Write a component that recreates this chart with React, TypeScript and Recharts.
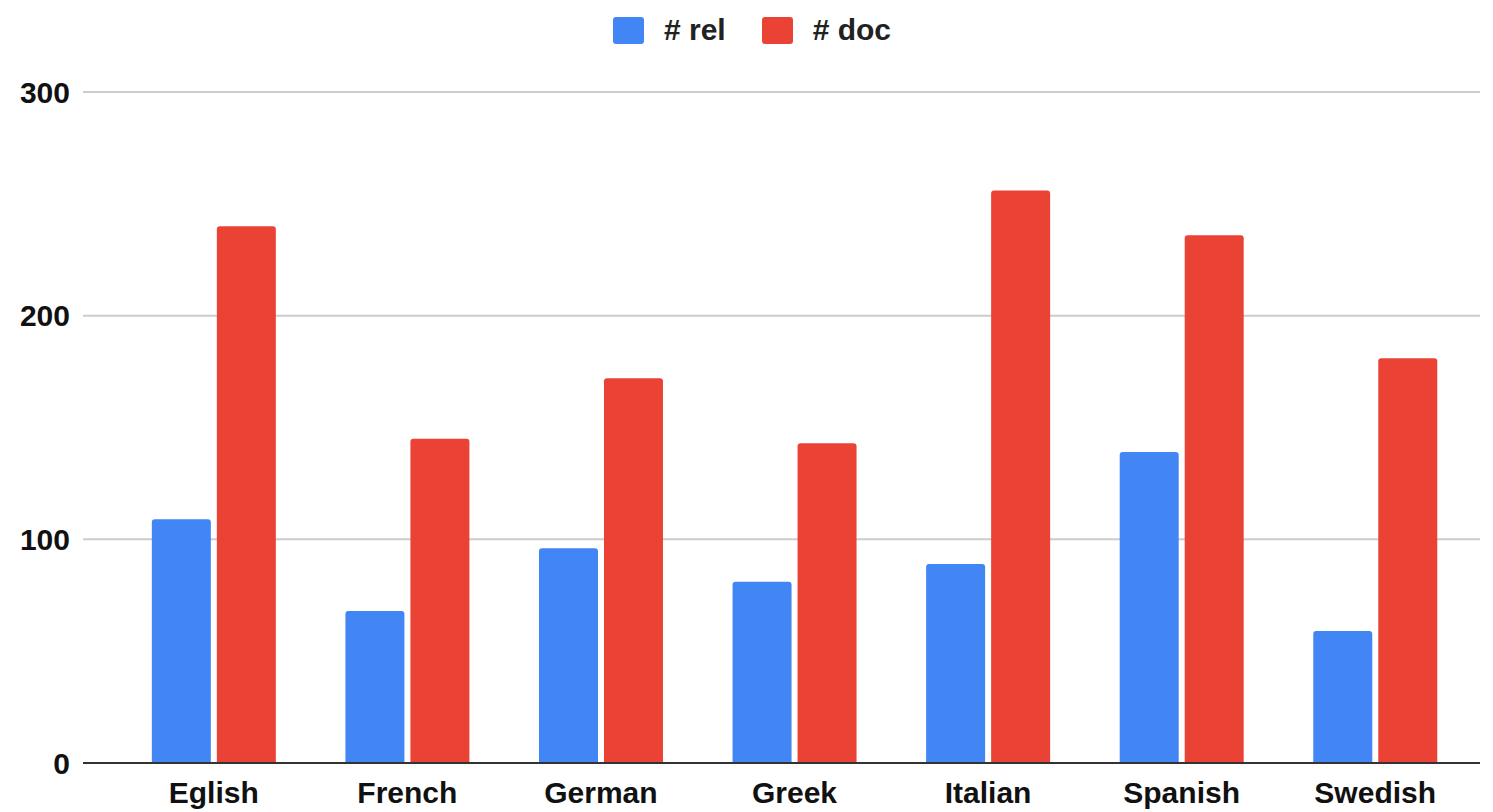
import React from 'react';
import { BarChart, Bar, XAxis, YAxis, CartesianGrid, Legend } from 'recharts';

const languages = ['Eglish', 'French', 'German', 'Greek', 'Italian', 'Spanish', 'Swedish'];
const relCounts = [109, 68, 96, 81, 89, 139, 59];
const docCounts = [240, 145, 172, 143, 256, 236, 181];
const yTicks = [0, 100, 200, 300];

const data = languages.map((name, i) => ({ name, rel: relCounts[i], doc: docCounts[i] }));

const font = '"Liberation Sans", Arial, sans-serif';

function LegendBox() {
  const items = [
    { label: '# rel', color: '#4285F4' },
    { label: '# doc', color: '#EA4335' },
  ];
  return (
    <div style={{ display: 'flex', justifyContent: 'center', gap: 36, paddingLeft: 24, fontFamily: font, height: 32 }}>
      {items.map((it) => (
        <div key={it.label} style={{ display: 'flex', alignItems: 'center' }}>
          <span style={{ width: 31, height: 27, background: it.color, borderRadius: 3, display: 'inline-block', marginRight: 20 }} />
          <span style={{ fontSize: 30, fontWeight: 'bold', color: '#222' }}>{it.label}</span>
        </div>
      ))}
    </div>
  );
}

export default function App() {
  return (
    <div style={{ position: 'absolute', left: 0, top: 0, background: '#fff' }}>
      <BarChart
        width={1493}
        height={812}
        data={data}
        margin={{ top: 60, right: 13, left: 0, bottom: 0 }}
        barCategoryGap="18%"
        barGap={6}
      >
        <CartesianGrid vertical={false} stroke="#cccccc" strokeWidth={2} />
        <XAxis
          dataKey="name"
          height={49}
          tickLine={false}
          axisLine={{ stroke: '#333', strokeWidth: 2 }}
          padding={{ left: 34, right: 8 }}
          tick={{ fontSize: 30, fontWeight: 'bold', fill: '#111', fontFamily: font }}
          tickMargin={13}
        />
        <YAxis
          width={83}
          domain={[0, 300]}
          ticks={yTicks}
          axisLine={false}
          tickLine={false}
          tickMargin={7}
          tick={{ fontSize: 30, fontWeight: 'bold', fill: '#111', fontFamily: font }}
        />
        <Legend verticalAlign="top" wrapperStyle={{ top: 14 }} content={() => <LegendBox />} />
        <Bar dataKey="rel" name="# rel" fill="#4285F4" radius={[3, 3, 0, 0]} isAnimationActive={false} />
        <Bar dataKey="doc" name="# doc" fill="#EA4335" radius={[3, 3, 0, 0]} isAnimationActive={false} />
      </BarChart>
    </div>
  );
}
